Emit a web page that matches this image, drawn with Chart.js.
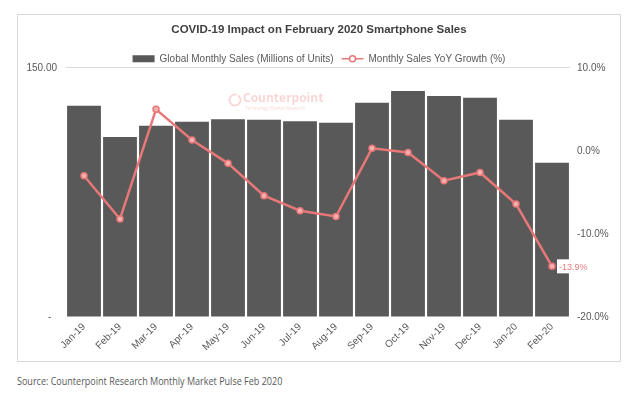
<!DOCTYPE html>
<html>
<head>
<meta charset="utf-8">
<script src="https://cdn.jsdelivr.net/npm/chart.js@4/dist/chart.umd.min.js"></script>
<style>
    body { margin: 0; background: #fff; width: 640px; height: 395px; overflow: hidden; }
    #frame { position: absolute; left: 17px; top: 14px; width: 602px; height: 346px; border: 1px solid #d9d9d9; }
    #source { position: absolute; left: 17px; top: 373px; font: 11px 'Open Sans', sans-serif; color: #595959;
              white-space: nowrap; transform: scaleX(0.82); transform-origin: left top; }
</style>
</head>
<body>
<div id="frame"><canvas id="chart" width="602" height="346"></canvas></div>
<div id="source">Source: Counterpoint Research Monthly Market Pulse Feb 2020</div>
<script>
const months = ['Jan-19', 'Feb-19', 'Mar-19', 'Apr-19', 'May-19', 'Jun-19', 'Jul-19',
                'Aug-19', 'Sep-19', 'Oct-19', 'Nov-19', 'Dec-19', 'Jan-20', 'Feb-20'];
const salesMillions = [127.1, 108.4, 115.1, 117.5, 119.0, 118.7, 117.8,
                       116.9, 128.9, 136.1, 133.1, 131.9, 118.7, 92.8];
const yoyGrowth = [-3.0, -8.2, 5.0, 1.3, -1.5, -5.4, -7.2,
                   -7.9, 0.3, -0.2, -3.6, -2.6, -6.4, -13.9];

const FONT = "'Liberation Sans', Arial, sans-serif";
const GREY = '#595959';
const RED = '#e87878';

// faint Counterpoint logo behind the bars
const watermark = {
    id: 'watermark',
    beforeDatasetsDraw(chart) {
        const ctx = chart.ctx;
        ctx.save();
        ctx.strokeStyle = 'rgba(232,120,120,0.3)';
        ctx.lineWidth = 1.8;
        ctx.beginPath();
        ctx.arc(217, 85, 5.5, -0.3 * Math.PI, 1.6 * Math.PI);
        ctx.stroke();
        ctx.fillStyle = 'rgba(232,120,120,0.3)';
        ctx.font = "bold 12px 'Open Sans', sans-serif";
        ctx.textBaseline = 'middle';
        ctx.fillText('Counterpoint', 225, 84);
        ctx.font = "4.5px 'Open Sans', sans-serif";
        ctx.fillText('Technology Market Research', 227, 94);
        ctx.restore();
    }
};

// value tag on the last point
const lastLabel = {
    id: 'lastLabel',
    afterDatasetsDraw(chart) {
        const pt = chart.getDatasetMeta(1).data[months.length - 1];
        const ctx = chart.ctx;
        const text = yoyGrowth[yoyGrowth.length - 1].toFixed(1) + '%';
        ctx.save();
        ctx.font = '9px ' + FONT;
        const w = ctx.measureText(text).width + 5;
        ctx.fillStyle = '#fff';
        ctx.fillRect(pt.x + 5, pt.y - 7, w, 14);
        ctx.fillStyle = '#ec7c7c';
        ctx.textBaseline = 'middle';
        ctx.fillText(text, pt.x + 7, pt.y + 1);
        ctx.restore();
    }
};

// circle marker on the line legend entry
const legendMarker = {
    id: 'legendMarker',
    afterDraw(chart) {
        const box = chart.legend.legendHitBoxes[1];
        if (!box) return;
        const ctx = chart.ctx;
        ctx.save();
        ctx.beginPath();
        ctx.arc(box.left + 11, box.top + box.height / 2, 3, 0, 2 * Math.PI);
        ctx.fillStyle = '#fff';
        ctx.fill();
        ctx.lineWidth = 1.5;
        ctx.strokeStyle = RED;
        ctx.stroke();
        ctx.restore();
    }
};

new Chart(document.getElementById('chart'), {
    data: {
        labels: months,
        datasets: [{
            type: 'bar',
            label: 'Global Monthly Sales (Millions of Units)',
            data: salesMillions,
            backgroundColor: GREY,
            categoryPercentage: 1,
            barPercentage: 0.94,
            yAxisID: 'y',
            order: 1
        }, {
            type: 'line',
            label: 'Monthly Sales YoY Growth (%)',
            data: yoyGrowth,
            borderColor: RED,
            borderWidth: 2.5,
            pointRadius: 3,
            pointBackgroundColor: '#f4b0b0',
            pointBorderColor: RED,
            pointBorderWidth: 1.5,
            tension: 0,
            yAxisID: 'y1',
            order: 0
        }]
    },
    options: {
        responsive: false,
        animation: false,
        layout: { padding: 0 },
        plugins: {
            title: {
                display: true,
                text: 'COVID-19 Impact on February 2020 Smartphone Sales',
                color: '#404040',
                font: { family: FONT, size: 11.5, weight: 'bold' },
                padding: { top: 8, bottom: 9 }
            },
            legend: {
                maxHeight: 22,
                labels: {
                    color: GREY,
                    font: { family: FONT, size: 10 },
                    padding: 8,
                    boxHeight: 7,
                    usePointStyle: true,
                    pointStyleWidth: 22,
                    sort: (a, b) => a.datasetIndex - b.datasetIndex,
                    generateLabels(chart) {
                        const items = Chart.defaults.plugins.legend.labels.generateLabels(chart);
                        items.forEach(it => { it.pointStyle = it.datasetIndex === 0 ? 'rect' : 'line'; });
                        return items;
                    }
                }
            },
            tooltip: { enabled: false }
        },
        scales: {
            x: {
                grid: { display: false, drawTicks: false },
                border: { display: false },
                ticks: {
                    color: GREY, font: { family: FONT, size: 10 },
                    minRotation: 45, maxRotation: 45, autoSkip: false, padding: 4
                },
                afterFit(s) { s.height = 44; }
            },
            y: {
                position: 'left',
                min: 0, max: 150,
                grid: {
                    drawTicks: false,
                    color: ctx => ctx.tick && ctx.tick.value === 150 ? '#d9d9d9' : 'rgba(0,0,0,0)'
                },
                border: { display: false },
                ticks: {
                    stepSize: 150, padding: 9, color: GREY, font: { family: FONT, size: 10 },
                    callback: v => v === 0 ? '-  ' : v.toFixed(2)
                },
                afterFit(s) { s.width = 48; }
            },
            y1: {
                position: 'right',
                min: -20, max: 10,
                grid: { display: false, drawTicks: false },
                border: { display: false },
                ticks: {
                    stepSize: 10, padding: 7, color: GREY, font: { family: FONT, size: 10 },
                    callback: v => v.toFixed(1) + '%'
                },
                afterFit(s) { s.width = 50; }
            }
        }
    },
    plugins: [watermark, lastLabel, legendMarker]
});
</script>
</body>
</html>
